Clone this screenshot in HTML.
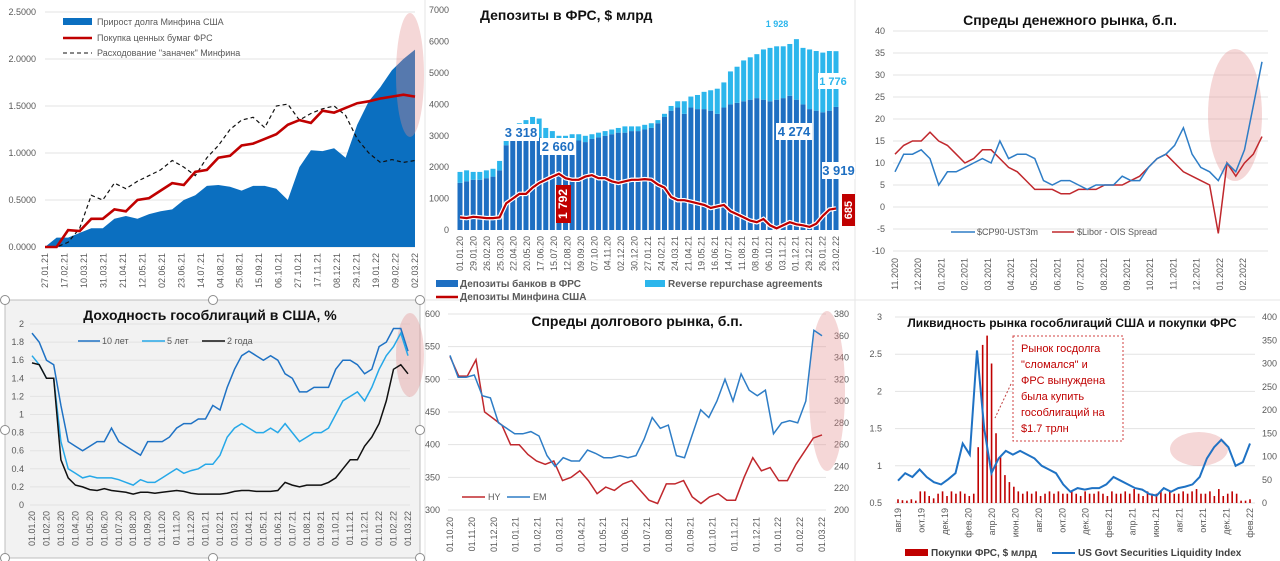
<!DOCTYPE html>
<html><head><meta charset="utf-8"><style>
html,body{margin:0;padding:0;background:#fff;}
svg{display:block;font-family:"Liberation Sans","DejaVu Sans",sans-serif;}
.t{font-size:9px;fill:#595959}
.ttl{font-size:14px;font-weight:bold;fill:#111}
</style></head><body>
<svg id="root" width="1280" height="561" viewBox="0 0 1280 561">
<rect x="0" y="0" width="1280" height="561" fill="#fff"/>
<rect x="5" y="300" width="415" height="258" fill="#f2f2f2" stroke="#bfbfbf"/>
<line x1="425" y1="0" x2="425" y2="561" stroke="#e6e6e6"/>
<line x1="855" y1="0" x2="855" y2="561" stroke="#e6e6e6"/>
<line x1="425" y1="300" x2="1280" y2="300" stroke="#e6e6e6"/>
<g id="g"></g>
</svg>
<script>
// ---- Panel 1 data
const p1Dates=["27.01.21","17.02.21","10.03.21","31.03.21","21.04.21","12.05.21","02.06.21","23.06.21","14.07.21","04.08.21","25.08.21","15.09.21","06.10.21","27.10.21","17.11.21","08.12.21","29.12.21","19.01.22","09.02.22","02.03.22"];
const p1Ticks=[0,0.5,1,1.5,2,2.5];
const p1Debt=[0,0.1,0.1,0.15,0.2,0.2,0.3,0.33,0.3,0.35,0.38,0.4,0.5,0.55,0.65,0.66,0.64,0.6,0.65,0.65,0.62,0.5,0.85,1.03,1.02,1.05,0.95,1.3,1.55,1.7,1.88,2.0,2.1];
const p1Fed=[0,0,0.18,0.17,0.3,0.3,0.4,0.38,0.5,0.52,0.6,0.68,0.66,0.8,0.82,0.95,0.97,1.08,1.1,1.15,1.2,1.3,1.35,1.32,1.45,1.43,1.48,1.53,1.55,1.58,1.6,1.62,1.6];
const p1Cash=[0,0,0.05,0.2,0.55,0.5,0.68,0.62,0.7,0.76,0.82,0.92,0.85,0.76,0.95,1.08,1.25,1.35,1.38,1.27,1.5,1.52,1.35,1.42,1.47,1.5,1.4,1.15,1.0,0.9,0.93,0.9,0.92];
// ---- Panel 2 data
const p2Ticks=[0,1000,2000,3000,4000,5000,6000,7000];
const p2Dates=["01.01.20","29.01.20","26.02.20","25.03.20","22.04.20","20.05.20","17.06.20","15.07.20","12.08.20","09.09.20","07.10.20","04.11.20","02.12.20","30.12.20","27.01.21","24.02.21","24.03.21","21.04.21","19.05.21","16.06.21","14.07.21","11.08.21","08.09.21","06.10.21","03.11.21","01.12.21","29.12.21","26.01.22","23.02.22"];
const p2Bank=[1500,1550,1600,1600,1650,1700,1900,2700,2900,2950,2950,2950,2950,2900,2850,2800,2850,2850,2850,2800,2900,2950,3000,3050,3100,3100,3150,3150,3200,3250,3400,3600,3800,3900,3700,3900,3850,3850,3800,3700,3900,4000,4050,4100,4150,4200,4150,4100,4150,4200,4274,4150,4000,3850,3800,3750,3800,3919];
const p2Rrp=[350,350,250,250,250,250,300,400,350,450,550,650,600,350,300,200,150,200,200,200,150,150,150,150,150,200,150,150,150,150,100,100,150,200,400,350,450,550,650,800,800,1050,1150,1300,1350,1400,1600,1700,1700,1650,1650,1928,1800,1900,1900,1900,1900,1776];
const p2Tsy=[400,380,420,400,380,380,400,850,1000,1150,1150,1350,1500,1600,1700,1792,1650,1600,1600,1700,1750,1650,1650,1550,1500,1550,1600,1600,1620,1600,1450,1350,1050,950,950,900,850,800,700,750,800,600,500,400,300,250,350,150,50,150,250,180,150,100,200,450,650,685];
// ---- Panel 3 data
const p3Ticks=[-10,-5,0,5,10,15,20,25,30,35,40];
const p3Dates=["11.2020","12.2020","01.2021","02.2021","03.2021","04.2021","05.2021","06.2021","07.2021","08.2021","09.2021","10.2021","11.2021","12.2021","01.2022","02.2022"];
const p3Cp=[8,12,12,13,11,5,8,8,9,10,11,10,15,11,12,12,11,6,5,6,6,5,4,5,5,5,7,6,6,9,11,12,14,18,12,9,8,6,10,8,13,23,33];
const p3Libor=[12,14,15,15,17,15,14,12,10,11,13,13,11,9,8,6,4,4,4,3,3,4,4,4,5,5,5,6,7,9,11,12,10,8,7,6,5,-6,10,7,10,12,16];
// ---- Panel 4 data
const p4Ticks=[0,0.2,0.4,0.6,0.8,1,1.2,1.4,1.6,1.8,2];
const p4Dates=["01.01.20","01.02.20","01.03.20","01.04.20","01.05.20","01.06.20","01.07.20","01.08.20","01.09.20","01.10.20","01.11.20","01.12.20","01.01.21","01.02.21","01.03.21","01.04.21","01.05.21","01.06.21","01.07.21","01.08.21","01.09.21","01.10.21","01.11.21","01.12.21","01.01.22","01.02.22","01.03.22"];
const p4Y10=[1.9,1.8,1.6,1.55,1.1,0.7,0.65,0.6,0.65,0.7,0.7,0.85,0.7,0.65,0.6,0.55,0.7,0.7,0.7,0.75,0.85,0.9,0.9,0.95,0.95,1.1,1.05,1.3,1.5,1.65,1.7,1.65,1.6,1.65,1.6,1.45,1.4,1.25,1.25,1.3,1.3,1.3,1.5,1.6,1.6,1.55,1.45,1.5,1.75,1.8,1.95,1.95,1.7];
const p4Y5=[1.65,1.55,1.4,1.4,0.7,0.4,0.35,0.3,0.32,0.3,0.3,0.3,0.28,0.25,0.22,0.28,0.25,0.25,0.3,0.35,0.4,0.35,0.38,0.4,0.45,0.45,0.55,0.75,0.85,0.9,0.85,0.8,0.8,0.85,0.8,0.9,0.8,0.7,0.75,0.8,0.8,0.85,1.0,1.15,1.2,1.25,1.15,1.3,1.5,1.65,1.75,1.9,1.65];
const p4Y2=[1.57,1.55,1.4,1.4,0.5,0.3,0.22,0.2,0.17,0.16,0.18,0.16,0.15,0.14,0.12,0.14,0.14,0.13,0.14,0.15,0.16,0.15,0.13,0.12,0.12,0.12,0.12,0.13,0.15,0.16,0.16,0.15,0.15,0.15,0.16,0.25,0.22,0.2,0.22,0.22,0.22,0.25,0.3,0.4,0.5,0.5,0.65,0.75,0.9,1.15,1.5,1.55,1.45];
// ---- Panel 5 data
const p5TicksL=[300,350,400,450,500,550,600];
const p5TicksR=[200,220,240,260,280,300,320,340,360,380];
const p5Dates=["01.10.20","01.11.20","01.12.20","01.01.21","01.02.21","01.03.21","01.04.21","01.05.21","01.06.21","01.07.21","01.08.21","01.09.21","01.10.21","01.11.21","01.12.21","01.01.22","01.02.22","01.03.22"];
const p5Hy=[535,505,505,530,450,440,430,400,400,385,375,370,375,345,350,360,345,325,335,330,340,345,330,315,310,340,340,345,320,310,320,325,315,315,350,380,360,365,345,345,370,390,410,415];
const p5Em=[342,322,322,324,305,303,280,275,270,270,272,268,250,240,248,245,245,255,252,248,248,250,248,250,265,285,275,278,250,248,270,292,285,300,320,300,325,310,305,310,270,280,282,280,300,365,360];
// ---- Panel 6 data
const p6TicksL=[0.5,1,1.5,2,2.5,3];
const p6TicksR=[0,50,100,150,200,250,300,350,400];
const p6Dates=["авг.19","окт.19","дек.19","фев.20","апр.20","июн.20","авг.20","окт.20","дек.20","фев.21","апр.21","июн.21","авг.21","окт.21","дек.21","фев.22"];
const p6Liq=[0.8,0.9,0.85,0.95,0.85,0.78,0.75,0.82,0.9,1.3,1.15,2.55,1.5,0.9,1.1,1.2,1.15,1.2,1.15,1.1,1.0,0.95,0.9,0.75,0.65,0.7,0.68,0.7,0.7,0.75,0.85,0.8,0.75,0.7,0.68,0.62,0.6,0.7,0.65,0.7,0.72,0.75,0.85,1.1,1.25,1.35,1.25,1.0,1.05,1.3];
const p6Buy=[8,6,5,8,5,25,25,15,10,20,25,15,25,20,25,20,15,20,120,340,360,300,150,100,60,45,35,25,20,25,20,25,15,20,25,20,25,20,20,25,20,15,25,20,20,25,20,15,25,20,20,25,20,30,20,15,25,20,20,25,20,25,20,20,25,20,25,30,20,20,25,15,30,15,20,25,20,5,5,8];

const NS="http://www.w3.org/2000/svg";
const G=document.getElementById('g');
function el(tag,attrs,name,parent){
  const e=document.createElementNS(NS,tag);
  for(const k in attrs)e.setAttribute(k,attrs[k]);
  
  
  (parent||G).appendChild(e);return e;
}
function txt(x,y,s,name,attrs){const t=el('text',Object.assign({x:x,y:y},attrs||{}),name);t.textContent=s;return t;}
function lin(x0,x1,n){return i=>x0+(x1-x0)*i/(n-1);}
function path(vals,xf,yf){return vals.map((v,i)=>(i?'L':'M')+xf(i).toFixed(1)+','+yf(v).toFixed(1)).join('');}
function yAxis(ticks,yf,x,anchor,gx0,gx1,name,fmt,grid){
  ticks.forEach(v=>{
    if(grid)el('line',{x1:gx0,x2:gx1,y1:yf(v),y2:yf(v),stroke:'#e3e3e3','stroke-width':1},name+'-grid');
    txt(x,yf(v)+3,fmt?fmt(v):String(v),name+'-tick',{class:'t','text-anchor':anchor});
  });
}
function xAxis(labels,x0,x1,ytop,name){
  const xf=lin(x0,x1,labels.length);
  labels.forEach((s,i)=>{const x=xf(i)+3;txt(x,ytop,s,name+'-tick',{class:'t','text-anchor':'end',transform:'rotate(-90 '+x+' '+ytop+')'});});
}
function ell(cx,cy,rx,ry,name){el('ellipse',{cx:cx,cy:cy,rx:rx,ry:ry,fill:'rgba(226,140,140,0.35)'},name);}

// ===== Panel 1
(function(){
  const yf=v=>247-v*94, x0=45,x1=415, xf=lin(x0,x1,p1Debt.length);
  yAxis(p1Ticks,yf,36,'end',x0,x1,'p1-y',v=>v.toFixed(4),true);
  el('path',{d:path(p1Debt,xf,yf)+'L'+x1+','+yf(0)+'L'+x0+','+yf(0)+'Z',fill:'#0b6fc0'},'debt-area');
  ell(410,75,14,62,'p1-highlight');
  el('path',{d:path(p1Cash,lin(x0,x1,p1Cash.length),yf),fill:'none',stroke:'#111','stroke-width':1.2,'stroke-dasharray':'4,3'},'cash-line');
  el('path',{d:path(p1Fed,lin(x0,x1,p1Fed.length),yf),fill:'none',stroke:'#c00000','stroke-width':2.6},'fed-line');
  xAxis(p1Dates,x0,x1,253,'p1-x');
  el('rect',{x:63,y:18,width:29,height:7,fill:'#0b6fc0'},'legend-debt-swatch');
  txt(97,25,'Прирост долга Минфина США','legend-debt',{class:'t'});
  el('line',{x1:63,x2:92,y1:38,y2:38,stroke:'#c00000','stroke-width':2.5},'legend-fed-swatch');
  txt(97,41,'Покупка ценных бумаг ФРС','legend-fed',{class:'t'});
  el('line',{x1:63,x2:92,y1:53,y2:53,stroke:'#111','stroke-dasharray':'4,3'},'legend-cash-swatch');
  txt(97,56,'Расходование "заначек" Минфина','legend-cash',{class:'t'});
})();

// ===== Panel 2
(function(){
  const yf=v=>230-v*0.0314, x0=460,x1=836, n=p2Bank.length, xf=lin(x0,x1,n), w=5;
  yAxis(p2Ticks,yf,449,'end',455,845,'p2-y',null,false);
  p2Bank.forEach((v,i)=>{
    el('rect',{x:xf(i)-w/2,y:yf(v),width:w,height:yf(0)-yf(v),fill:'#1e6fc2'},'bank-bar');
    el('rect',{x:xf(i)-w/2,y:yf(v+p2Rrp[i]),width:w,height:yf(0)-yf(p2Rrp[i]),fill:'#2cb6ec'},'rrp-bar');
  });
  el('path',{d:path(p2Tsy,xf,yf),fill:'none',stroke:'#fff','stroke-width':4.5},'treasury-halo');
  el('path',{d:path(p2Tsy,xf,yf),fill:'none',stroke:'#c00000','stroke-width':2.2},'treasury-line');
  xAxis(p2Dates,x0,x1,236,'p2-x');
  txt(480,20,'Депозиты в ФРС, $ млрд','p2-title',{class:'ttl'});
  function box(x,y,w,h,s,col,name,fs){el('rect',{x:x,y:y,width:w,height:h,fill:'#fff'},name+'-box');txt(x+w/2,y+h-4,s,name,{'text-anchor':'middle','font-size':fs||13,'font-weight':'bold',fill:col});}
  box(503,124,36,17,'3 318','#1e6fc2','label-3318');
  box(540,138,36,17,'2 660','#1e6fc2','label-2660');
  box(762,18,30,13,'1 928','#2cb6ec','label-1928',9);
  box(818,73,30,16,'1 776','#2cb6ec','label-1776',11);
  box(776,123,36,17,'4 274','#1e6fc2','label-4274');
  box(822,162,33,17,'3 919','#1e6fc2','label-3919');
  el('rect',{x:556,y:185,width:15,height:38,fill:'#c00000'},'label-1792-box');
  txt(567,204,'1 792','label-1792',{'text-anchor':'middle','font-size':12,'font-weight':'bold',fill:'#fff',transform:'rotate(-90 567 204)'});
  el('rect',{x:842,y:194,width:13,height:32,fill:'#c00000'},'label-685-box');
  txt(852,210,'685','label-685',{'text-anchor':'middle','font-size':11,'font-weight':'bold',fill:'#fff',transform:'rotate(-90 852 210)'});
  el('rect',{x:436,y:280,width:22,height:7,fill:'#1e6fc2'},'legend-bank-swatch');
  txt(460,287,'Депозиты банков в ФРС','legend-bank',{'font-size':10,'font-weight':'bold',fill:'#595959'});
  el('rect',{x:645,y:280,width:20,height:7,fill:'#2cb6ec'},'legend-rrp-swatch');
  txt(668,287,'Reverse repurchase agreements','legend-rrp',{'font-size':10,'font-weight':'bold',fill:'#595959'});
  el('line',{x1:436,x2:458,y1:297,y2:297,stroke:'#c00000','stroke-width':2.5},'legend-tsy-swatch');
  txt(460,300,'Депозиты Минфина США','legend-tsy',{'font-size':10,'font-weight':'bold',fill:'#595959'});
})();

// ===== Panel 3
(function(){
  const yf=v=>31+(40-v)*4.4, x0=895,x1=1268;
  yAxis(p3Ticks,yf,885,'end',893,1268,'p3-y',null,true);
  ell(1235,115,27,66,'p3-highlight');
  el('path',{d:path(p3Libor,lin(x0,x1-6,p3Libor.length),yf),fill:'none',stroke:'#c0282d','stroke-width':1.5},'libor-line');
  el('path',{d:path(p3Cp,lin(x0,x1-6,p3Cp.length),yf),fill:'none',stroke:'#2e7dc6','stroke-width':1.5},'cp-line');
  xAxis(p3Dates,x0,x1-25,258,'p3-x');
  txt(1070,25,'Спреды денежного рынка, б.п.','p3-title',{class:'ttl','text-anchor':'middle'});
  el('line',{x1:951,x2:975,y1:232,y2:232,stroke:'#2e7dc6','stroke-width':1.5},'legend-cp-swatch');
  txt(977,235,'$CP90-UST3m','legend-cp',{class:'t'});
  el('line',{x1:1052,x2:1074,y1:232,y2:232,stroke:'#c0282d','stroke-width':1.5},'legend-libor-swatch');
  txt(1077,235,'$Libor - OIS Spread','legend-libor',{class:'t'});
})();

// ===== Panel 4
(function(){
  const yf=v=>505-v*90.5, x0=32,x1=408;
  yAxis(p4Ticks,yf,24,'end',30,410,'p4-y',null,true);
  ell(410,355,14,42,'p4-highlight');
  el('path',{d:path(p4Y10,lin(x0,x1,p4Y10.length),yf),fill:'none',stroke:'#1f72c4','stroke-width':1.5},'y10-line');
  el('path',{d:path(p4Y5,lin(x0,x1,p4Y5.length),yf),fill:'none',stroke:'#26a8e8','stroke-width':1.5},'y5-line');
  el('path',{d:path(p4Y2,lin(x0,x1,p4Y2.length),yf),fill:'none',stroke:'#111','stroke-width':1.5},'y2-line');
  xAxis(p4Dates,x0,x1,511,'p4-x');
  txt(210,320,'Доходность гособлигаций в США, %','p4-title',{class:'ttl','text-anchor':'middle'});
  el('line',{x1:78,x2:100,y1:341,y2:341,stroke:'#1f72c4','stroke-width':1.5},'legend-10y-swatch');
  txt(102,344,'10 лет','legend-10y',{class:'t'});
  el('line',{x1:142,x2:165,y1:341,y2:341,stroke:'#26a8e8','stroke-width':1.5},'legend-5y-swatch');
  txt(167,344,'5 лет','legend-5y',{class:'t'});
  el('line',{x1:202,x2:225,y1:341,y2:341,stroke:'#111','stroke-width':1.5},'legend-2y-swatch');
  txt(227,344,'2 года','legend-2y',{class:'t'});
  [[5,300],[213,300],[420,300],[5,430],[420,430],[5,558],[213,558],[420,558]].forEach(p=>{
    el('circle',{cx:p[0],cy:p[1],r:4.5,fill:'#fff',stroke:'#8c8c8c'},'resize-handle');
  });
})();

// ===== Panel 5
(function(){
  const yL=v=>314+(600-v)*0.6533, yR=v=>314+(380-v)*1.089, x0=450,x1=822;
  yAxis(p5TicksL,yL,440,'end',448,826,'p5-yl',null,true);
  yAxis(p5TicksR,yR,834,'start',0,0,'p5-yr',null,false);
  ell(827,391,18,80,'p5-highlight');
  el('path',{d:path(p5Hy,lin(x0,x1,p5Hy.length),yL),fill:'none',stroke:'#c0282d','stroke-width':1.5},'hy-line');
  el('path',{d:path(p5Em,lin(x0,x1,p5Em.length),yR),fill:'none',stroke:'#2e7dc6','stroke-width':1.5},'em-line');
  xAxis(p5Dates,x0,x1,517,'p5-x');
  txt(637,326,'Спреды долгового рынка, б.п.','p5-title',{class:'ttl','text-anchor':'middle'});
  el('line',{x1:462,x2:485,y1:497,y2:497,stroke:'#c0282d','stroke-width':1.5},'legend-hy-swatch');
  txt(488,500,'HY','legend-hy',{class:'t'});
  el('line',{x1:507,x2:530,y1:497,y2:497,stroke:'#2e7dc6','stroke-width':1.5},'legend-em-swatch');
  txt(533,500,'EM','legend-em',{class:'t'});
})();

// ===== Panel 6
(function(){
  const yL=v=>317+(3-v)*74.4, yR=v=>503-v*0.465, x0=898,x1=1250;
  yAxis(p6TicksL,yL,882,'end',895,1255,'p6-yl',null,true);
  yAxis(p6TicksR,yR,1262,'start',0,0,'p6-yr',null,false);
  const xb=lin(x0,x1,p6Buy.length);
  p6Buy.forEach((v,i)=>el('rect',{x:xb(i)-0.8,y:yR(v),width:1.6,height:yR(0)-yR(v),fill:'#c00000'},'purchase-bar'));
  ell(1199,449,29,17,'p6-highlight');
  el('path',{d:path(p6Liq,lin(x0,x1,p6Liq.length),yL),fill:'none',stroke:'#1f72c4','stroke-width':2},'liquidity-line');
  xAxis(p6Dates,x0,x1,508,'p6-x');
  txt(1072,327,'Ликвидность рынка гособлигаций США и покупки ФРС','p6-title',{'font-size':12,'font-weight':'bold',fill:'#111','text-anchor':'middle'});
  el('rect',{x:1013,y:336,width:110,height:105,fill:'#fff',stroke:'#d04040','stroke-dasharray':'2,2'},'annotation-box');
  ['Рынок госдолга','"сломался" и','ФРС вынуждена','была купить','гособлигаций на','$1.7 трлн'].forEach((s,i)=>txt(1021,352+i*16,s,'annotation-text',{'font-size':11,fill:'#c00000'}));
  el('line',{x1:1011,x2:995,y1:384,y2:418,stroke:'#c04040','stroke-dasharray':'2,2'},'annotation-pointer');
  el('rect',{x:905,y:549,width:23,height:7,fill:'#c00000'},'legend-purchases-swatch');
  txt(931,556,'Покупки ФРС, $ млрд','legend-purchases',{'font-size':10,'font-weight':'bold',fill:'#404040'});
  el('line',{x1:1052,x2:1075,y1:553,y2:553,stroke:'#1f72c4','stroke-width':2},'legend-liquidity-swatch');
  txt(1078,556,'US Govt Securities Liquidity Index','legend-liquidity',{'font-size':10,'font-weight':'bold',fill:'#404040'});
})();
</script>
</body></html>
